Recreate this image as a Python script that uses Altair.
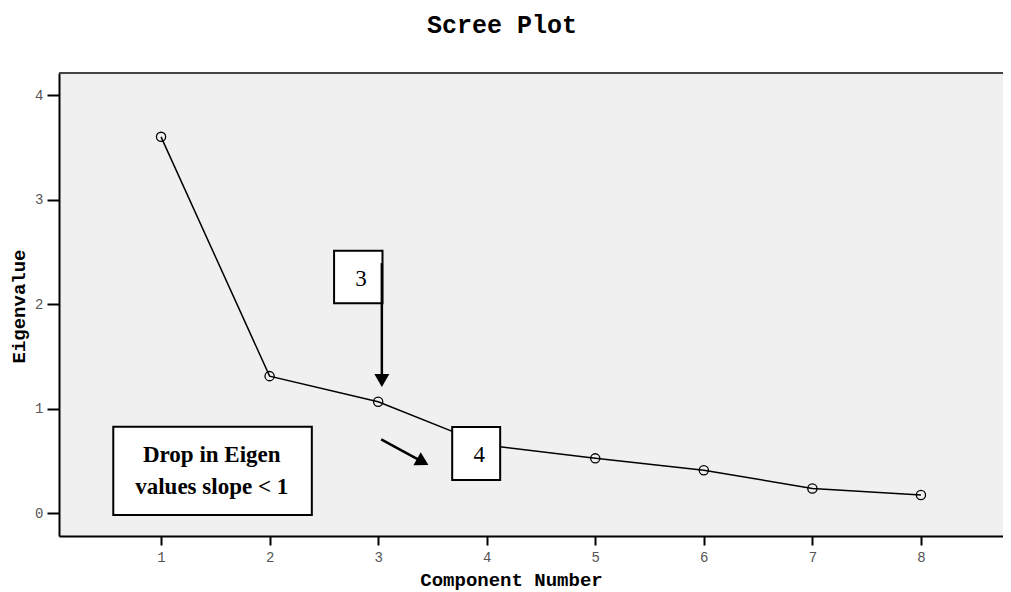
import altair as alt
import pandas as pd

# Scree data
components = [1, 2, 3, 4, 5, 6, 7, 8]
eigenvalues = [3.60, 1.31, 1.065, 0.65, 0.523, 0.41, 0.235, 0.172]

# Annotation boxes (data coordinates)
box_x1 = [2.594, 3.682, 0.560]
box_x2 = [3.040, 4.124, 2.389]
box_y1 = [2.510, 0.823, 0.826]
box_y2 = [2.007, 0.316, -0.019]

# Annotation texts
text_labels = ["3", "4"]
text_x = [2.841, 3.931]
text_y = [2.236, 0.555]
drop_lines = ["Drop in Eigen", "values slope < 1"]
drop_x = [1.467, 1.467]
drop_y = [0.555, 0.252]

# Arrows: shafts and heads
shaft_x1 = [3.034, 3.028]
shaft_x2 = [3.034, 3.367]
shaft_y1 = [2.392, 0.705]
shaft_y2 = [1.30, 0.514]
head_x = [3.034, 3.411]
head_y = [1.268, 0.489]
head_angle = [180, 119]

XDOM = [0.06, 8.756]
YDOM = [-0.22, 4.211]

df = pd.DataFrame({"comp": components, "eig": eigenvalues})
boxes = pd.DataFrame({"x1": box_x1, "x2": box_x2, "y1": box_y1, "y2": box_y2})
texts = pd.DataFrame({"t": text_labels, "x": text_x, "y": text_y})
drops = pd.DataFrame({"t": drop_lines, "x": drop_x, "y": drop_y})
shafts = pd.DataFrame({"x1": shaft_x1, "x2": shaft_x2, "y1": shaft_y1, "y2": shaft_y2})
heads = pd.DataFrame({"x": head_x, "y": head_y, "a": head_angle})

xs = alt.Scale(domain=XDOM, nice=False, zero=False)
ys = alt.Scale(domain=YDOM, nice=False, zero=False)

xaxis = alt.Axis(values=components, format="d", tickSize=9, labelPadding=5, grid=False,
                 title="Component Number", titleX=452, titleY=43,
                 titleBaseline="middle", titleAlign="center")
yaxis = alt.Axis(values=[0, 1, 2, 3, 4], format="d", tickSize=12, labelPadding=4, grid=False,
                 title="Eigenvalue", titleX=-41, titleY=233, titleAngle=-90,
                 titleBaseline="middle", titleAlign="center")

line = alt.Chart(df).mark_line(color="black", strokeWidth=1.5).encode(
    x=alt.X("comp:Q", scale=xs, axis=xaxis),
    y=alt.Y("eig:Q", scale=ys, axis=yaxis),
)
pts = alt.Chart(df).mark_point(shape="circle", filled=False, color="black",
                               strokeWidth=1.3, size=85, opacity=1).encode(
    x=alt.X("comp:Q", scale=xs),
    y=alt.Y("eig:Q", scale=ys),
)
topline = alt.Chart(df).mark_rule(color="#444", strokeWidth=1.5).encode(
    x=alt.value(0), x2=alt.value(944), y=alt.value(0),
)
rects = alt.Chart(boxes).mark_rect(fill="white", stroke="black", strokeWidth=2).encode(
    x=alt.X("x1:Q", scale=xs), x2="x2:Q",
    y=alt.Y("y1:Q", scale=ys), y2="y2:Q",
)
nums = alt.Chart(texts).mark_text(font="Liberation Serif", fontSize=23,
                                  baseline="middle", align="center", color="black").encode(
    x=alt.X("x:Q", scale=xs), y=alt.Y("y:Q", scale=ys), text="t:N",
)
dtxt = alt.Chart(drops).mark_text(font="Liberation Serif", fontSize=23, fontWeight="bold",
                                  baseline="middle", align="center", color="black").encode(
    x=alt.X("x:Q", scale=xs), y=alt.Y("y:Q", scale=ys), text="t:N",
)
shaft = alt.Chart(shafts).mark_rule(color="black", strokeWidth=2.5).encode(
    x=alt.X("x1:Q", scale=xs), x2="x2:Q",
    y=alt.Y("y1:Q", scale=ys), y2="y2:Q",
)
head = alt.Chart(heads).mark_point(shape="triangle-up", filled=True, color="black",
                                   size=225, opacity=1).encode(
    x=alt.X("x:Q", scale=xs), y=alt.Y("y:Q", scale=ys),
    angle=alt.Angle("a:Q", scale=None),
)

chart = alt.layer(line, topline, pts, rects, nums, dtxt, shaft, head).properties(
    width=944, height=463,
    autosize=alt.AutoSizeParams(type="none"),
    padding={"left": 51, "top": 65, "right": 0, "bottom": 56},
    title=alt.TitleParams("Scree Plot", font="Liberation Mono", fontSize=25,
                          fontWeight="bold", anchor="middle", frame="group",
                          dx=-29, offset=34, color="black"),
).configure_view(
    fill="#f0f0f0", stroke=None,
).configure_axis(
    domainColor="black", domainWidth=2, tickColor="black", tickWidth=2,
    labelFont="Liberation Mono", labelFontSize=14, labelColor="#555",
    titleFont="Liberation Mono", titleFontSize=19, titleFontWeight="bold",
    titleColor="black",
)

chart.save("out.html", embed_options={"renderer": "svg", "actions": False})
